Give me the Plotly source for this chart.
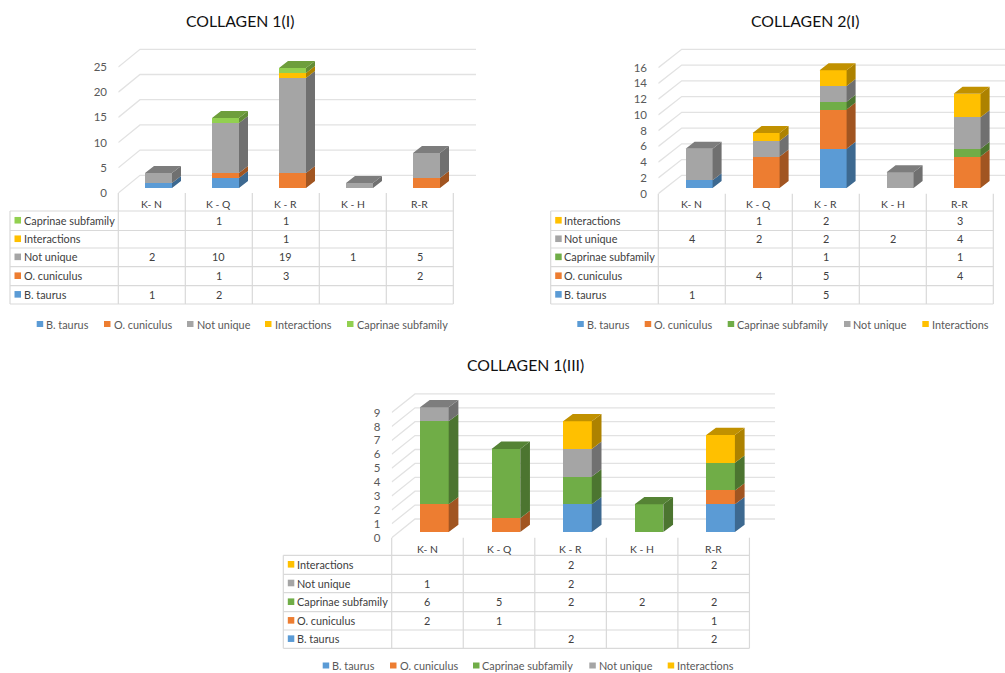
import plotly.graph_objects as go

WIDTH, HEIGHT = 1005, 673
PLOT_H = 670  # calibration of the paper-to-pixel mapping
FONT = "Lato"

categories = ["K- N", "K - Q", "K - R", "K - H", "R-R"]

# Collagen 1(I)
c1_b_taurus = [1, 2, None, None, None]
c1_o_cuniculus = [None, 1, 3, None, 2]
c1_not_unique = [2, 10, 19, 1, 5]
c1_interactions = [None, None, 1, None, None]
c1_caprinae = [None, 1, 1, None, None]
c1_ticks = [0, 5, 10, 15, 20, 25]

# Collagen 2(I)
c2_b_taurus = [1, None, 5, None, None]
c2_o_cuniculus = [None, 4, 5, None, 4]
c2_caprinae = [None, None, 1, None, 1]
c2_not_unique = [4, 2, 2, 2, 4]
c2_interactions = [None, 1, 2, None, 3]
c2_ticks = [0, 2, 4, 6, 8, 10, 12, 14, 16]

# Collagen 1(III)
c3_b_taurus = [None, None, 2, None, 2]
c3_o_cuniculus = [2, 1, None, None, 1]
c3_caprinae = [6, 5, 2, 2, 2]
c3_not_unique = [1, None, 2, None, None]
c3_interactions = [None, None, 2, None, 2]
c3_ticks = [0, 1, 2, 3, 4, 5, 6, 7, 8, 9]

BLUE, ORANGE, GRAY, YELLOW, GREEN, LIME = "#5B9BD5", "#ED7D31", "#A5A5A5", "#FFC000", "#70AD47", "#92D050"

panels = [
    dict(title="COLLAGEN 1(I)", title_xy=(240, 20.5), ticks=c1_ticks,
         series=[("B. taurus", c1_b_taurus, BLUE), ("O. cuniculus", c1_o_cuniculus, ORANGE),
                 ("Not unique", c1_not_unique, GRAY), ("Interactions", c1_interactions, YELLOW),
                 ("Caprinae subfamily", c1_caprinae, LIME)],
         rows=["Caprinae subfamily", "Interactions", "Not unique", "O. cuniculus", "B. taurus"],
         axis_x=118.3, step=67.0, bar_off=26.7, bar_w=27.0, grid_end=476, left=10,
         base=188, unit=5.0, label_zero=193, label_step=5.04, back_zero=175.3, back_x=140,
         dx=9, dy=7, top_px=40, bot_px=197, hdr=204,
         row_lines=[211, 230.5, 248, 266.7, 285.7, 304], legend_y=324,
         legend_sw=[36.7, 104, 187, 265, 347], legend_tx=[46, 113.7, 196.7, 275, 356.7]),
    dict(title="COLLAGEN 2(I)", title_xy=(805, 20.5), ticks=c2_ticks,
         series=[("B. taurus", c2_b_taurus, BLUE), ("O. cuniculus", c2_o_cuniculus, ORANGE),
                 ("Caprinae subfamily", c2_caprinae, GREEN), ("Not unique", c2_not_unique, GRAY),
                 ("Interactions", c2_interactions, YELLOW)],
         rows=["Interactions", "Not unique", "Caprinae subfamily", "O. cuniculus", "B. taurus"],
         axis_x=658.3, step=67.0, bar_off=27.3, bar_w=27.0, grid_end=1005, left=550.7,
         base=188, unit=7.85, label_zero=193.7, label_step=7.875, back_zero=175.3, back_x=681.7,
         dx=9, dy=7, top_px=40, bot_px=197, hdr=204,
         row_lines=[211, 230.5, 248, 266.7, 285.7, 304], legend_y=324,
         legend_sw=[577.3, 644.7, 727.7, 844, 922.3], legend_tx=[586.7, 654.3, 737, 853.3, 931.7]),
    dict(title="COLLAGEN 1(III)", title_xy=(525.7, 364.5), ticks=c3_ticks,
         series=[("B. taurus", c3_b_taurus, BLUE), ("O. cuniculus", c3_o_cuniculus, ORANGE),
                 ("Caprinae subfamily", c3_caprinae, GREEN), ("Not unique", c3_not_unique, GRAY),
                 ("Interactions", c3_interactions, YELLOW)],
         rows=["Interactions", "Not unique", "Caprinae subfamily", "O. cuniculus", "B. taurus"],
         axis_x=391.7, step=71.55, bar_off=28.3, bar_w=28.7, grid_end=775, left=283.3,
         base=532, unit=13.85, label_zero=537.7, label_step=13.9, back_zero=519, back_x=415,
         dx=9.7, dy=7.3, top_px=385, bot_px=541, hdr=549,
         row_lines=[555.3, 574.3, 592.7, 611.7, 630, 648.3], legend_y=665.5,
         legend_sw=[322.7, 390, 473, 589.3, 667.7], legend_tx=[332.3, 399.7, 482.3, 598.7, 677]),
]


def X(p):
    return p / WIDTH


def Y(p):
    return 1 - p / PLOT_H


def shade(hex_color, k):
    r, g, b = (int(hex_color[i:i + 2], 16) for i in (1, 3, 5))
    return f"rgb({int(r * k)},{int(g * k)},{int(b * k)})"


fig = go.Figure()
shapes, annotations = [], []
GRID, TABLE = "#E2E2E2", "#D9D9D9"
TEXT_SIZE = 10.85

for n, p in enumerate(panels, start=1):
    xname, yname = ("x", "y") if n == 1 else (f"x{n}", f"y{n}")
    xkey, ykey = ("xaxis", "yaxis") if n == 1 else (f"xaxis{n}", f"yaxis{n}")
    step, unit, base = p["step"], p["unit"], p["base"]
    to_val = lambda px: (base - px) / unit
    to_cat = lambda px: (px - p["axis_x"]) / step
    dx, dy = p["dx"] / step, p["dy"] / unit
    bw = p["bar_w"] / step
    xmax = to_cat(p["grid_end"])
    centres = [i + (p["bar_off"] + p["bar_w"] / 2) / step for i in range(len(categories))]

    tick_pos = [to_val(p["label_zero"] - t * p["label_step"]) for t in p["ticks"]]
    fig.update_layout({
        xkey: dict(domain=[X(p["axis_x"]), X(p["grid_end"])], range=[0, xmax], visible=False,
                   anchor=yname, fixedrange=True),
        ykey: dict(domain=[Y(p["bot_px"]), Y(p["top_px"])],
                   range=[to_val(p["bot_px"]), to_val(p["top_px"])], anchor=xname,
                   tickmode="array", tickvals=tick_pos, ticktext=[str(t) for t in p["ticks"]],
                   showgrid=False, zeroline=False, showline=False, ticks="outside", ticklen=8,
                   tickcolor="rgba(0,0,0,0)", tickfont=dict(family=FONT, size=11.5, color="#595959"),
                   fixedrange=True),
    })

    # Perspective walls, derived from the axis ticks
    back_shift = to_val(p["back_zero"])
    back_dx = to_cat(p["back_x"])
    for t, tp in zip(p["ticks"], tick_pos):
        yb = back_shift + t * p["label_step"] / unit
        shapes.append(dict(type="path", xref=xname, yref=yname, layer="below",
                           path=f"M 0 {tp} L {back_dx} {yb} L {xmax} {yb}",
                           line=dict(color=GRID, width=1.3)))

    # Stacks: front faces are bars; side and top faces follow from the same values
    cum = [0.0] * len(categories)
    tops = [None] * len(categories)
    built = []
    for name, vals, color in p["series"]:
        side_x, side_y = [], []
        for i, v in enumerate(vals):
            if not v:
                continue
            r = centres[i] + bw / 2
            b, t = cum[i], cum[i] + v
            side_x += [r, r + dx, r + dx, r, r, None]
            side_y += [b, b + dy, t + dy, t, b, None]
            cum[i] = t
            tops[i] = color
        built.append((name, vals, color, side_x, side_y))

    for name, vals, color, side_x, side_y in built:
        fig.add_trace(go.Bar(x=centres, y=vals, width=bw, name=name, xaxis=xname, yaxis=yname,
                             marker=dict(color=color, line=dict(width=0)), showlegend=False))
        fig.add_trace(go.Scatter(x=side_x, y=side_y, mode="lines", fill="toself", xaxis=xname, yaxis=yname,
                                 fillcolor=shade(color, 0.68), line=dict(width=0), hoverinfo="skip",
                                 showlegend=False))
    for name, vals, color, _, _ in built:
        top_x, top_y = [], []
        for i in range(len(categories)):
            if tops[i] == color:
                l = centres[i] - bw / 2
                r = centres[i] + bw / 2
                t = cum[i]
                top_x += [l, l + dx, r + dx, r, l, None]
                top_y += [t, t + dy, t + dy, t, t, None]
        if top_x:
            fig.add_trace(go.Scatter(x=top_x, y=top_y, mode="lines", fill="toself", xaxis=xname, yaxis=yname,
                                     fillcolor=shade(color, 0.76), line=dict(width=0), hoverinfo="skip",
                                     showlegend=False))

    # Title
    annotations.append(dict(text=p["title"], xref="paper", yref="paper", x=X(p["title_xy"][0]), y=Y(p["title_xy"][1]),
                            showarrow=False, xanchor="center", yanchor="middle",
                            font=dict(family=FONT, size=15.8, color="#111111")))

    # Data table
    lines = p["row_lines"]
    col_x = [p["axis_x"] + i * step for i in range(len(categories) + 1)]
    for ly in lines:
        shapes.append(dict(type="line", xref="paper", yref="paper", x0=X(p["left"]), x1=X(col_x[-1]),
                           y0=Y(ly), y1=Y(ly), line=dict(color=TABLE, width=1.2)))
    for cx in col_x:
        shapes.append(dict(type="line", xref="paper", yref="paper", x0=X(cx), x1=X(cx),
                           y0=Y(p["label_zero"]), y1=Y(lines[-1]), line=dict(color=TABLE, width=1.2)))
    shapes.append(dict(type="line", xref="paper", yref="paper", x0=X(p["left"]), x1=X(p["left"]),
                       y0=Y(lines[0]), y1=Y(lines[-1]), line=dict(color=TABLE, width=1.2)))
    for i, cat in enumerate(categories):
        annotations.append(dict(text=cat, xref="paper", yref="paper", x=X(col_x[i] + step / 2), y=Y(p["hdr"]),
                                showarrow=False, xanchor="center", yanchor="middle",
                                font=dict(family=FONT, size=TEXT_SIZE - 0.5, color="#404040")))
    lookup = {name: (vals, color) for name, vals, color in p["series"]}
    for r, row in enumerate(p["rows"]):
        vals, color = lookup[row]
        cy = (lines[r] + lines[r + 1]) / 2 - 0.5
        shapes.append(dict(type="rect", xref="paper", yref="paper", x0=X(p["left"] + 4.5), x1=X(p["left"] + 11),
                           y0=Y(cy - 3.3), y1=Y(cy + 3.3), fillcolor=color, line=dict(width=0)))
        annotations.append(dict(text=row, xref="paper", yref="paper", x=X(p["left"] + 13.5), y=Y(cy),
                                showarrow=False, xanchor="left", yanchor="middle", xshift=-2,
                                font=dict(family=FONT, size=TEXT_SIZE, color="#404040")))
        for i, v in enumerate(vals):
            if v is not None:
                annotations.append(dict(text=str(v), xref="paper", yref="paper", x=X(col_x[i] + step / 2), y=Y(cy),
                                        showarrow=False, xanchor="center", yanchor="middle",
                                        font=dict(family=FONT, size=TEXT_SIZE, color="#404040")))

    # Legend row
    for (name, _, color), sx, tx in zip(p["series"], p["legend_sw"], p["legend_tx"]):
        ly = p["legend_y"]
        shapes.append(dict(type="rect", xref="paper", yref="paper", x0=X(sx), x1=X(sx + 6.5),
                           y0=Y(ly - 3), y1=Y(ly + 3), fillcolor=color, line=dict(width=0)))
        annotations.append(dict(text=name, xref="paper", yref="paper", x=X(tx), y=Y(ly),
                                showarrow=False, xanchor="left", yanchor="middle", xshift=-2,
                                font=dict(family=FONT, size=TEXT_SIZE, color="#595959")))

fig.update_layout(width=WIDTH, height=HEIGHT, margin=dict(l=0, r=0, t=0, b=0), barmode="stack",
                  paper_bgcolor="white", plot_bgcolor="rgba(0,0,0,0)", showlegend=False,
                  shapes=shapes, annotations=annotations)
fig.write_html("out.html", config={"displayModeBar": False},
               post_script="document.body.style.margin='0';document.body.style.overflow='hidden';")
